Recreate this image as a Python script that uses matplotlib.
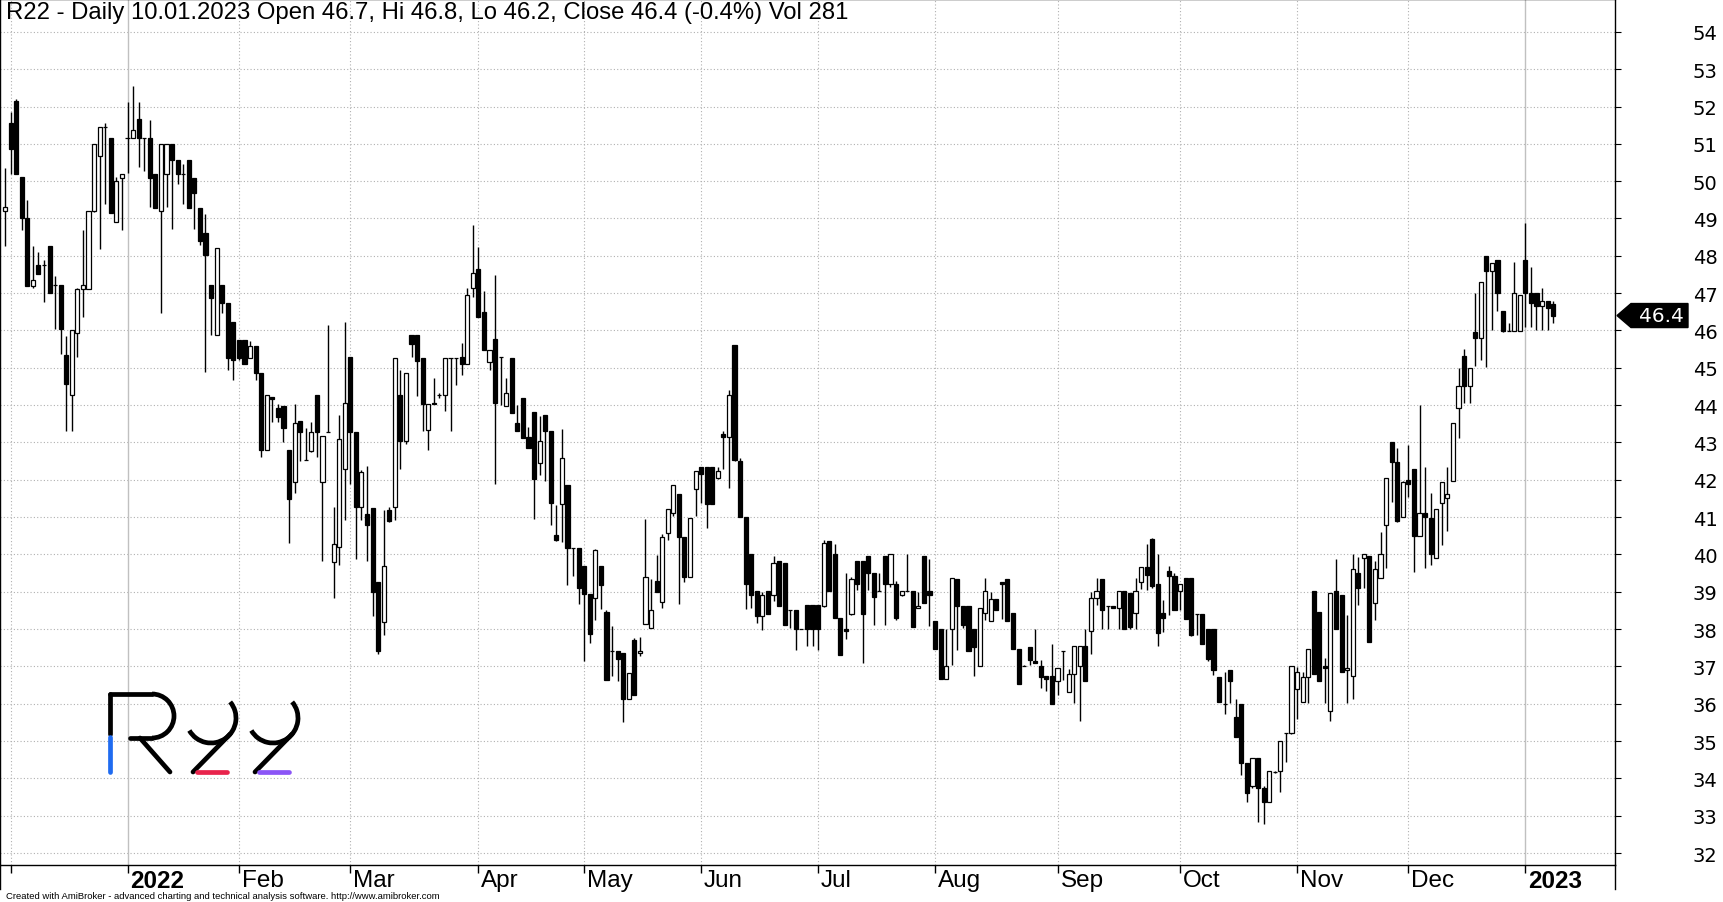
import matplotlib
matplotlib.use("Agg")
import matplotlib.pyplot as plt
from matplotlib.patches import Polygon, Arc
import numpy as np
import pandas as pd

# Warsaw exchange sessions shown: 30.11.2021 .. 10.01.2023
first_day = "2021-11-30"
last_day = "2023-01-10"
holidays = ["2021-12-24", "2021-12-31", "2022-01-06", "2022-04-15", "2022-04-18",
            "2022-05-03", "2022-06-16", "2022-08-15", "2022-11-01", "2022-11-11",
            "2022-12-26", "2023-01-06"]

opens = [49.2, 51.57, 52.15, 50.1, 49.0, 47.2, 47.75, 47.75, 48.27, 47.23,
         47.23, 45.35, 44.27, 45.93, 47.11, 47.11, 49.2, 50.68, 51.45, 51.16,
         48.9, 50.09, 51.16, 51.16, 51.67, 51.16, 51.16, 50.2, 49.2, 50.19,
         51.0, 50.57, 50.19, 50.57, 50.09, 49.28, 48.61, 47.23, 45.88, 47.23,
         46.74, 46.24, 45.74, 45.74, 45.26, 45.58, 44.86, 42.79, 44.22, 43.93,
         43.98, 42.79, 41.93, 43.57, 42.52, 42.78, 44.28, 41.93, 43.28, 39.8,
         40.2, 42.28, 45.28, 43.29, 41.27, 41.09, 41.24, 39.27, 38.2, 41.2,
         41.27, 44.28, 43.03, 45.88, 45.88, 45.27, 43.33, 44.06, 44.26, 44.28,
         45.27, 45.27, 45.3, 45.09, 47.15, 47.66, 46.49, 45.15, 45.78, 45.3,
         43.97, 45.26, 43.53, 44.2, 43.15, 43.81, 42.44, 43.74, 43.32, 40.51,
         41.34, 41.86, 40.16, 40.16, 39.68, 38.93, 38.82, 39.68, 38.47, 37.42,
         37.42, 37.37, 36.12, 37.71, 37.35, 38.13, 38.02, 39.3, 38.72, 40.58,
         41.12, 41.62, 40.47, 39.4, 41.76, 42.35, 42.35, 42.35, 42.05, 43.23,
         43.15, 45.62, 42.51, 41.0, 40.02, 39.02, 38.35, 39.02, 38.91, 39.83,
         39.78, 38.52, 38.52, 38.0, 38.64, 38.64, 38.64, 38.63, 40.37, 40.0,
         38.3, 38.0, 38.4, 39.83, 39.83, 39.96, 39.51, 39.03, 39.96, 39.2,
         39.21, 38.92, 39.03, 39.03, 38.57, 39.96, 39.03, 38.22, 38.0, 36.67,
         38.0, 39.33, 38.62, 38.62, 38.0, 37.0, 38.42, 38.22, 38.81, 39.27,
         39.33, 38.42, 37.48, 37.02, 37.52, 37.15, 37.02, 36.73, 36.73, 36.62,
         37.42, 36.32, 36.8, 37.01, 37.55, 37.95, 38.82, 39.33, 38.62, 38.62,
         38.57, 39.03, 38.97, 38.42, 39.27, 39.67, 40.42, 39.21, 38.42, 39.56,
         39.43, 39.03, 39.37, 39.37, 38.41, 38.41, 38.0, 38.0, 36.72, 36.0,
         36.91, 35.65, 36.0, 34.41, 33.79, 34.55, 33.74, 33.38, 34.18, 34.2,
         35.22, 35.21, 36.39, 36.05, 36.72, 39.03, 38.46, 37.0, 35.81, 39.03,
         38.91, 36.91, 36.75, 39.51, 39.91, 39.96, 38.7, 39.37, 40.79, 43.0,
         42.48, 41.0, 42.0, 42.3, 40.5, 41.1, 40.97, 39.9, 41.39, 41.51,
         41.96, 43.91, 45.31, 44.5, 45.95, 45.81, 48.0, 47.6, 47.9, 46.51,
         45.99, 45.99, 45.99, 47.9, 47.0, 47.0, 46.66, 46.8, 46.7]
highs = [50.35, 51.85, 52.2, 50.1, 49.5, 48.25, 48.1, 47.9, 48.27, 47.45,
         47.23, 45.86, 46.0, 47.15, 48.68, 49.2, 51.0, 51.45, 51.55, 51.16,
         50.1, 50.19, 52.13, 52.54, 52.13, 51.16, 51.65, 50.2, 51.0, 51.0,
         51.0, 50.57, 50.46, 50.57, 50.09, 49.28, 49.12, 47.23, 48.21, 47.23,
         46.74, 46.24, 45.74, 45.74, 45.73, 45.58, 44.86, 44.28, 44.22, 44.03,
         43.98, 42.79, 44.03, 43.57, 43.39, 43.56, 44.28, 43.17, 46.15, 41.26,
         43.74, 46.23, 45.28, 43.29, 42.27, 42.37, 41.24, 39.27, 41.19, 41.26,
         45.27, 44.93, 44.87, 45.88, 45.88, 45.27, 44.03, 44.73, 44.32, 45.27,
         45.27, 45.27, 45.66, 47.14, 48.82, 48.24, 47.06, 45.49, 47.48, 45.3,
         44.72, 45.26, 44.01, 44.2, 43.41, 43.81, 43.71, 43.74, 43.32, 41.32,
         43.36, 41.86, 40.16, 40.16, 39.68, 38.93, 40.15, 39.68, 38.5, 38.09,
         37.42, 37.37, 36.82, 37.75, 37.79, 40.96, 39.33, 39.98, 40.56, 41.21,
         41.86, 41.62, 40.47, 40.98, 42.24, 42.35, 42.35, 42.35, 42.33, 43.32,
         44.4, 45.62, 42.59, 41.0, 40.02, 39.02, 39.0, 39.02, 39.95, 39.83,
         39.78, 38.52, 38.52, 38.0, 38.64, 38.64, 38.64, 40.4, 40.37, 40.29,
         38.3, 39.49, 39.4, 39.83, 39.83, 39.96, 39.51, 39.49, 39.96, 40.0,
         39.3, 39.03, 40.0, 39.03, 39.0, 39.96, 39.88, 38.22, 38.0, 37.99,
         39.37, 39.33, 38.62, 38.62, 38.0, 38.57, 39.36, 39.0, 38.81, 39.27,
         39.33, 38.42, 37.48, 37.05, 37.52, 37.99, 37.18, 36.73, 37.6, 36.96,
         37.42, 36.94, 37.55, 37.55, 37.99, 39.0, 39.36, 39.33, 38.62, 38.62,
         39.03, 39.03, 38.97, 39.36, 39.66, 40.29, 40.45, 40.0, 38.79, 39.7,
         39.5, 39.21, 39.37, 39.37, 38.41, 38.41, 38.0, 38.0, 36.72, 36.84,
         36.91, 36.14, 36.0, 34.41, 34.55, 34.55, 33.79, 34.2, 34.2, 35.0,
         35.22, 37.0, 36.99, 36.84, 37.46, 39.03, 38.46, 37.23, 38.97, 39.88,
         38.91, 38.39, 40.0, 39.94, 40.0, 39.96, 39.83, 40.6, 42.06, 43.0,
         42.84, 41.97, 42.93, 42.3, 44.0, 42.35, 41.64, 41.21, 41.95, 42.35,
         43.51, 44.99, 45.5, 45.0, 47.0, 47.31, 48.0, 47.82, 47.9, 46.51,
         46.19, 47.84, 46.95, 48.89, 47.69, 47.0, 47.13, 46.8, 46.8]
lows = [48.25, 50.2, 50.2, 48.7, 47.2, 47.15, 47.5, 46.75, 47.0, 46.05,
        45.37, 43.3, 43.3, 45.28, 46.35, 47.1, 49.17, 48.17, 49.4, 49.14,
        48.9, 48.68, 50.21, 51.16, 50.39, 50.28, 49.3, 49.27, 46.46, 49.3,
        48.71, 49.93, 49.4, 49.27, 48.71, 48.28, 44.88, 45.88, 45.88, 46.47,
        44.94, 44.67, 45.2, 45.1, 45.26, 44.67, 42.62, 42.79, 43.54, 43.54,
        43.0, 40.3, 41.65, 42.49, 42.52, 42.75, 42.6, 39.82, 43.28, 38.82,
        39.71, 40.92, 41.9, 39.88, 40.92, 39.82, 38.34, 37.33, 37.83, 40.87,
        40.92, 42.3, 42.95, 45.29, 44.24, 43.3, 42.81, 44.03, 44.2, 43.83,
        43.3, 44.55, 44.82, 45.09, 46.89, 46.36, 45.49, 44.94, 41.88, 43.99,
        43.97, 43.8, 43.31, 43.13, 42.86, 40.94, 42.12, 41.96, 40.78, 40.37,
        40.34, 39.19, 39.41, 38.66, 37.15, 37.62, 38.24, 38.53, 36.63, 36.73,
        36.61, 35.51, 36.12, 36.23, 37.29, 38.13, 38.02, 39.0, 38.56, 40.4,
        41.03, 38.68, 39.27, 39.4, 41.03, 41.37, 40.71, 41.35, 42.02, 42.3,
        41.77, 42.5, 41.0, 38.54, 38.56, 38.16, 37.98, 38.4, 38.74, 38.63,
        38.11, 38.02, 37.44, 38.0, 37.55, 37.55, 37.44, 38.6, 39.02, 38.3,
        37.3, 37.74, 38.37, 39.04, 37.09, 39.04, 38.12, 39.03, 38.12, 39.13,
        38.24, 38.88, 39.03, 38.06, 38.57, 38.7, 38.08, 37.46, 36.67, 36.67,
        37.03, 37.43, 38.03, 37.42, 36.75, 37.0, 38.24, 38.22, 38.52, 38.28,
        38.21, 37.46, 36.54, 37.0, 37.03, 37.08, 36.41, 36.34, 35.99, 36.23,
        36.63, 36.32, 36.02, 35.53, 36.62, 37.33, 38.64, 38.0, 38.0, 38.57,
        38.0, 38.0, 38.0, 38.0, 39.07, 39.04, 39.1, 37.55, 37.91, 38.37,
        38.51, 38.52, 38.26, 37.82, 37.84, 37.6, 37.15, 36.76, 36.04, 35.72,
        36.02, 35.1, 34.08, 33.36, 33.74, 32.83, 32.77, 33.36, 34.15, 33.64,
        34.44, 35.18, 35.6, 36.05, 36.02, 36.79, 36.6, 36.02, 35.54, 38.0,
        36.85, 36.02, 36.12, 38.64, 39.09, 37.66, 38.24, 39.37, 39.63, 41.41,
        40.88, 41.0, 41.53, 39.52, 40.5, 39.63, 39.73, 39.9, 40.26, 40.62,
        41.96, 43.12, 44.05, 44.05, 45.04, 45.21, 45.03, 46.02, 46.53, 45.95,
        45.99, 45.99, 45.99, 46.08, 46.08, 46.02, 46.02, 46.02, 46.2]
closes = [49.3, 50.86, 50.2, 49.0, 47.2, 47.35, 47.5, 47.75, 47.0, 47.23,
          46.03, 44.56, 46.0, 47.11, 47.22, 49.2, 51.0, 51.45, 51.45, 49.14,
          50.0, 50.19, 51.16, 51.37, 51.16, 51.16, 50.08, 49.27, 51.0, 51.0,
          50.56, 50.19, 50.19, 49.27, 49.68, 48.39, 48.01, 46.86, 48.21, 46.74,
          45.26, 45.2, 45.26, 45.1, 45.58, 44.86, 42.79, 44.28, 44.16, 43.67,
          43.38, 41.49, 43.52, 43.27, 42.52, 43.28, 43.27, 43.17, 43.28, 40.27,
          43.09, 44.06, 43.27, 41.27, 42.22, 40.79, 39.0, 37.4, 39.69, 40.9,
          45.27, 43.03, 44.87, 45.65, 45.17, 44.03, 44.03, 44.03, 44.26, 45.27,
          45.27, 45.27, 45.09, 46.96, 47.55, 46.36, 45.49, 45.49, 44.07, 45.3,
          44.32, 43.8, 43.31, 43.13, 42.86, 42.02, 43.03, 43.32, 41.39, 40.4,
          42.59, 40.16, 40.16, 39.1, 38.93, 37.88, 40.12, 39.18, 36.63, 37.42,
          37.21, 36.12, 36.82, 36.23, 37.41, 39.4, 38.51, 39.0, 40.47, 41.21,
          41.86, 40.47, 39.4, 40.98, 42.24, 42.15, 41.35, 41.35, 42.23, 43.14,
          44.27, 42.54, 41.0, 39.21, 38.91, 38.35, 38.92, 38.4, 39.78, 38.63,
          38.11, 38.52, 38.0, 38.0, 38.0, 38.0, 38.0, 40.31, 39.02, 38.3,
          37.3, 37.94, 39.33, 39.2, 38.4, 39.5, 38.86, 39.03, 39.2, 40.0,
          38.3, 39.03, 39.03, 38.06, 38.63, 38.7, 38.92, 37.46, 36.67, 37.0,
          39.37, 38.62, 38.12, 37.42, 37.52, 38.57, 39.03, 38.81, 38.52, 39.2,
          38.21, 37.46, 36.54, 37.02, 37.18, 37.1, 36.71, 36.67, 35.99, 36.96,
          37.42, 36.8, 37.55, 37.55, 36.62, 38.82, 39.03, 38.51, 38.62, 38.57,
          39.03, 38.0, 38.05, 39.03, 39.66, 39.46, 39.15, 37.9, 38.3, 39.42,
          38.51, 39.21, 38.26, 37.85, 38.41, 37.6, 37.19, 36.9, 36.04, 36.0,
          36.6, 35.1, 34.4, 33.6, 34.55, 33.73, 33.38, 34.2, 34.18, 35.0,
          35.22, 37.0, 36.84, 36.72, 37.46, 36.79, 36.6, 36.96, 38.97, 38.0,
          36.85, 36.96, 39.61, 39.1, 40.0, 37.66, 39.61, 40.0, 42.06, 42.48,
          40.9, 41.95, 41.9, 40.5, 41.1, 41.0, 40.0, 41.21, 41.95, 41.61,
          43.51, 44.5, 44.5, 45.0, 45.81, 47.31, 47.6, 47.82, 47.0, 45.99,
          45.99, 47.0, 46.95, 47.0, 46.74, 46.66, 46.8, 46.61, 46.4]

title = "R22 - Daily 10.01.2023 Open 46.7, Hi 46.8, Lo 46.2, Close 46.4 (-0.4%) Vol 281"
footer = ("Created with AmiBroker - advanced charting and technical analysis software. "
          "http://www.amibroker.com")
month_names = ["Jan", "Feb", "Mar", "Apr", "May", "Jun", "Jul", "Aug", "Sep", "Oct", "Nov", "Dec"]

days = pd.bdate_range(first_day, last_day)
days = days[~days.isin(pd.to_datetime(holidays))]
o = np.array(opens)
h = np.array(highs)
l = np.array(lows)
c = np.array(closes)
x = np.arange(len(days))

W, H = 1724, 903
fig = plt.figure(figsize=(W / 100, H / 100), dpi=100)
fig.patch.set_facecolor("white")
ax = fig.add_axes([0, 37 / H, 1615 / W, 866 / H])
ax.set_xlim(-0.9, 289.1)
ax.set_ylim(31.68, 54.88)

grid_col = "#b0b0b0"
for p in range(32, 55):
    ax.axhline(p, color=grid_col, lw=0.8, ls=(0, (1, 2)), zorder=0)

month_starts = [i for i in range(1, len(days)) if days[i].month != days[i - 1].month]
for i in month_starts:
    if days[i].month == 1:
        ax.axvline(i, color="#c0c0c0", lw=1.0, zorder=0)
    else:
        ax.axvline(i, color=grid_col, lw=0.8, ls=(0, (1, 2)), zorder=0)

# candles
up = c >= o
ax.vlines(x, l, h, color="black", lw=1.0, zorder=2)
ax.bar(x, np.abs(c - o), bottom=np.minimum(o, c), width=0.74,
       color=np.where(up, "white", "black"), edgecolor="black", linewidth=0.9, zorder=3)

for s in ax.spines.values():
    s.set_color("black")
    s.set_linewidth(1.0)

ax.yaxis.tick_right()
ax.set_yticks(range(32, 55))
ax.tick_params(axis="y", direction="out", length=4, width=0.8, pad=52, labelsize=14,
               labelfontfamily="DejaVu Sans")
ax.set_xticks(month_starts)
ax.set_xticklabels([])
ax.tick_params(axis="x", direction="out", length=6, width=1.0)

narrow = ["Liberation Sans Narrow", "Liberation Sans"]
for i in month_starts[1:]:
    d = days[i]
    if d.month == 1:
        lab, wt = str(d.year), "bold"
    else:
        lab, wt = month_names[d.month - 1], "normal"
    ax.annotate(lab, xy=(i, 0), xycoords=("data", "axes fraction"), xytext=(3, -4),
                textcoords="offset pixels", ha="left", va="top", fontsize=17.5,
                fontweight=wt, family=narrow)

fig.text(6 / W, 1 - 2 / H, title, ha="left", va="top", fontsize=17.2, family=narrow)
fig.text(6 / W, 2 / H, footer, ha="left", va="bottom", fontsize=6.8, family=narrow)

# overlay in pixel coordinates for logo and last-price marker
ov = fig.add_axes([0, 0, 1, 1], facecolor="none")
ov.set_xlim(0, W)
ov.set_ylim(H, 0)
ov.axis("off")

# frame lines continuing below the axis
ov.plot([1615, 1615], [866, 890], color="black", lw=1.0)
ov.plot([0.5, 0.5], [866, 890], color="black", lw=1.0)

# last price marker
fig.canvas.draw()
y_last = H - ax.transData.transform((0, c[-1]))[1]
ov.add_patch(Polygon([(1617, y_last), (1631, y_last - 12), (1688, y_last - 12),
                      (1688, y_last + 12), (1631, y_last + 12)], closed=True,
                     fc="black", ec="black"))
ov.text(1661, y_last, f"{c[-1]:.1f}", color="white", ha="center", va="center",
        fontsize=14.5, family="DejaVu Sans")

# R22 logo
lw = 3.4
ov.plot([110, 110], [695, 735], color="black", lw=lw, solid_capstyle="round")
ov.plot([110, 110], [738, 773], color="#1f6bf0", lw=lw, solid_capstyle="round")
ov.plot([110, 152], [695, 695], color="black", lw=lw, solid_capstyle="round")
ov.add_patch(Arc((152, 717), 44, 44, theta1=-90, theta2=90, color="black", lw=lw))
ov.plot([152, 130], [739, 739], color="black", lw=lw, solid_capstyle="round")
ov.plot([140, 170], [739, 773], color="black", lw=lw, solid_capstyle="round")
for cx, bar_col in [(211, "#e8244c"), (273, "#8b55f6")]:
    ov.add_patch(Arc((cx, 719), 50, 50, theta1=-40, theta2=150, color="black", lw=lw))
    ang = np.deg2rad(-40)
    x0, y0 = cx + 25 * np.cos(ang), 719 - 25 * np.sin(ang)
    ov.plot([x0, cx - 18], [y0, 773], color="black", lw=lw, solid_capstyle="round")
    ov.plot([cx - 14, cx + 16], [773, 773], color=bar_col, lw=lw, solid_capstyle="round")

fig.savefig("out.png", dpi=100, facecolor="white")
